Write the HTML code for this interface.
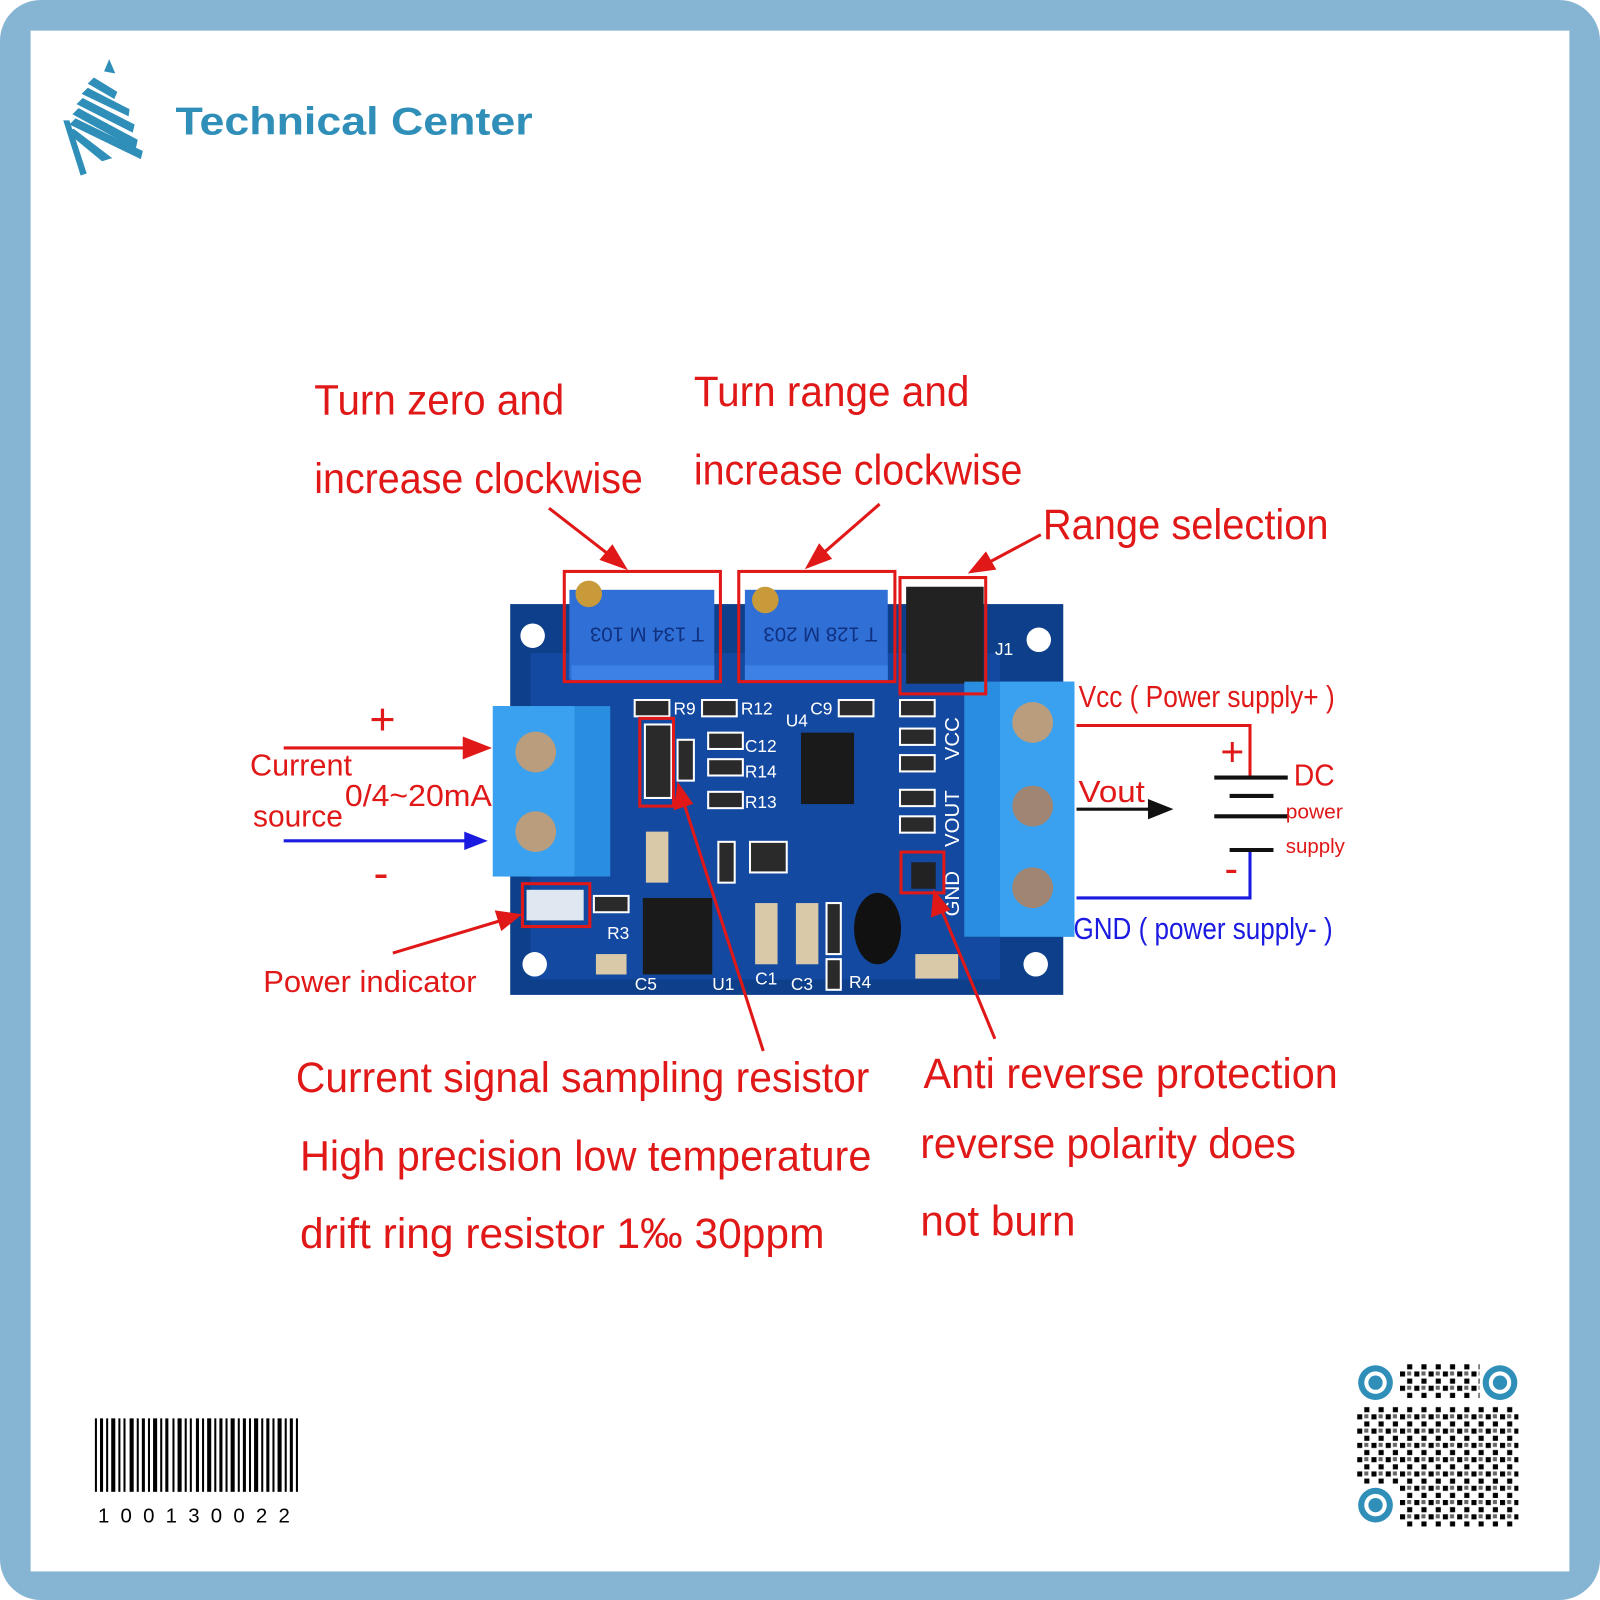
<!DOCTYPE html>
<html><head><meta charset="utf-8"><style>
html,body{margin:0;padding:0;background:#fff}
svg{display:block}
text{font-family:"Liberation Sans",sans-serif}
</style></head><body>
<svg width="1600" height="1600" viewBox="0 0 1568 1568" xmlns="http://www.w3.org/2000/svg">
<defs>
<pattern id="qr" width="14" height="14" patternUnits="userSpaceOnUse">
<rect x="0" y="0" width="5" height="5" fill="#000"/><rect x="7" y="7" width="5" height="5" fill="#000"/><rect x="7" y="0" width="4" height="4" fill="#000" opacity=".6"/>
</pattern>
</defs>
<rect x="0" y="0" width="1568" height="1568" rx="40" fill="#86b4d3"/>
<rect x="30" y="30" width="1508" height="1510" fill="#fff"/>
<!-- logo -->
<g fill="#2f8fb8">
<polygon points="107,58 113,72 102,70"/>
<polygon points="86,82 92,76 115,90 112,97"/>
<polygon points="80,92 86,86 127,107 126,114"/>
<polygon points="75,102 81,96 132,122 130,130"/>
<polygon points="71,112 77,106 135,137 133,146"/>
<polygon points="68,122 74,116 140,148 138,156"/>
<polygon points="66,130 72,126 110,155 100,158"/>
<polygon points="62,118 68,118 85,170 79,172"/>
</g>
<text x="172" y="132" font-size="38" font-weight="bold" fill="#2f8fb8" textLength="350" lengthAdjust="spacingAndGlyphs">Technical Center</text>
<!-- PCB -->
<rect x="500" y="592" width="542" height="383" fill="#0d3f8a"/>
<rect x="520" y="640" width="460" height="320" fill="#1349a0"/>
<circle cx="522" cy="623" r="12" fill="#fff"/><circle cx="1018" cy="627" r="12" fill="#fff"/>
<circle cx="524" cy="945" r="12" fill="#fff"/><circle cx="1015" cy="945" r="12" fill="#fff"/>
<!-- pots -->
<rect x="558" y="578" width="142" height="88" fill="#2f6fd6"/>
<rect x="560" y="652" width="140" height="16" fill="#3d80e6"/>
<circle cx="577" cy="582" r="13" fill="#c89a3a"/>
<text x="590" y="605" font-size="20" fill="#103080" transform="rotate(180 640 610)">T 134 M 103</text>
<rect x="730" y="578" width="140" height="88" fill="#2f6fd6"/>
<rect x="730" y="652" width="140" height="16" fill="#3d80e6"/>
<circle cx="750" cy="588" r="13" fill="#c89a3a"/>
<text x="760" y="605" font-size="20" fill="#103080" transform="rotate(180 810 610)">T 128 M 203</text>
<!-- jumper -->
<rect x="888" y="575" width="76" height="95" fill="#222"/>
<!-- small SMD parts -->
<g fill="#2a2a2a" stroke="#fff" stroke-width="2">
<rect x="622" y="686" width="34" height="16"/><rect x="688" y="686" width="34" height="16"/><rect x="822" y="686" width="34" height="16"/>
<rect x="694" y="718" width="34" height="16"/><rect x="694" y="744" width="34" height="16"/><rect x="694" y="776" width="34" height="16"/>
<rect x="882" y="686" width="34" height="16"/><rect x="882" y="714" width="34" height="16"/><rect x="882" y="740" width="34" height="16"/><rect x="882" y="774" width="34" height="16"/><rect x="882" y="800" width="34" height="16"/>
<rect x="582" y="878" width="34" height="16"/><rect x="810" y="885" width="14" height="50"/><rect x="810" y="940" width="14" height="30"/>
<rect x="632" y="710" width="26" height="72"/><rect x="664" y="725" width="16" height="40"/>
<rect x="704" y="825" width="16" height="40"/><rect x="735" y="825" width="36" height="30"/>
</g>
<!-- right terminal -->
<rect x="945" y="668" width="108" height="250" fill="#2a8ee0"/>
<rect x="980" y="668" width="73" height="250" fill="#3aa0f0"/>
<circle cx="1012" cy="708" r="20" fill="#b99d7c"/><circle cx="1012" cy="790" r="20" fill="#a08672"/><circle cx="1012" cy="870" r="20" fill="#a08672"/>
<!-- left terminal -->
<rect x="483" y="692" width="115" height="167" fill="#2a8ee0"/>
<rect x="483" y="692" width="80" height="167" fill="#3aa0f0"/>
<circle cx="525" cy="737" r="20" fill="#b99d7c"/><circle cx="525" cy="815" r="20" fill="#b99d7c"/>
<!-- ICs -->
<rect x="785" y="718" width="52" height="70" fill="#1a1a1a"/>
<rect x="630" y="880" width="68" height="75" fill="#1a1a1a"/>
<ellipse cx="860" cy="910" rx="23" ry="35" fill="#111"/>
<rect x="516" y="872" width="56" height="30" fill="#dfe8f0"/>
<rect x="893" y="845" width="24" height="26" fill="#222"/>
<g fill="#d9c9a8"><rect x="633" y="815" width="22" height="50"/><rect x="740" y="885" width="22" height="60"/><rect x="780" y="885" width="22" height="60"/><rect x="897" y="935" width="42" height="24"/><rect x="584" y="935" width="30" height="20"/></g>
<g fill="#fff" font-size="17"><text x="660" y="700">R9</text><text x="726" y="700">R12</text><text x="730" y="737">C12</text><text x="730" y="762">R14</text><text x="730" y="792">R13</text><text x="770" y="712">U4</text><text x="794" y="700">C9</text><text x="975" y="642">J1</text><text x="595" y="920">R3</text><text x="622" y="970">C5</text><text x="698" y="970">U1</text><text x="740" y="965">C1</text><text x="775" y="970">C3</text><text x="832" y="968">R4</text></g>
<g fill="#fff" font-size="20"><text transform="translate(940 745) rotate(-90)">VCC</text><text transform="translate(940 830) rotate(-90)">VOUT</text><text transform="translate(940 898) rotate(-90)">GND</text></g>
<!-- red boxes -->
<g fill="none" stroke="#e01818" stroke-width="3">
<rect x="553" y="560" width="153" height="108"/><rect x="724" y="560" width="153" height="108"/><rect x="882" y="566" width="84" height="114"/>
<rect x="627" y="704" width="33" height="86"/><rect x="512" y="866" width="66" height="42"/><rect x="883" y="835" width="42" height="40"/>
</g>
<!-- arrows -->
<g stroke="#e01818" stroke-width="3" fill="#e01818">
<line x1="538" y1="498" x2="605" y2="550"/><polygon points="612,556 590,548 600,536"/>
<line x1="862" y1="494" x2="800" y2="548"/><polygon points="792,555 803,535 813,547"/>
<line x1="1020" y1="524" x2="960" y2="556"/><polygon points="952,560 966,543 974,557"/>
<line x1="278" y1="733" x2="465" y2="733"/><polygon points="478,733 455,724 455,742"/>
<line x1="385" y1="934" x2="498" y2="900"/><polygon points="508,897 487,894 492,910"/>
<line x1="748" y1="1030" x2="668" y2="780"/><polygon points="665,770 662,792 677,787"/>
<line x1="975" y1="1018" x2="920" y2="885"/><polygon points="916,875 914,897 929,891"/>
</g>
<line x1="278" y1="824" x2="465" y2="824" stroke="#1a1ae0" stroke-width="3"/><polygon points="478,824 455,815 455,833" fill="#1a1ae0"/>
<!-- power wiring -->
<polyline points="1055,711 1225,711 1225,760" fill="none" stroke="#e01818" stroke-width="3"/>
<polyline points="1055,880 1225,880 1225,835" fill="none" stroke="#1a1ae0" stroke-width="3"/>
<g stroke="#111" stroke-width="4"><line x1="1190" y1="762" x2="1262" y2="762"/><line x1="1205" y1="780" x2="1248" y2="780"/><line x1="1190" y1="800" x2="1262" y2="800"/><line x1="1205" y1="833" x2="1248" y2="833"/></g>
<line x1="1055" y1="793" x2="1130" y2="793" stroke="#111" stroke-width="3"/><polygon points="1150,793 1125,783 1125,803" fill="#111"/>
<!-- labels -->
<g fill="#e01818" font-size="42" lengthAdjust="spacingAndGlyphs">
<text x="308" y="406" textLength="245" lengthAdjust="spacingAndGlyphs">Turn zero and</text>
<text x="308" y="483" textLength="322" lengthAdjust="spacingAndGlyphs">increase clockwise</text>
<text x="680" y="398" textLength="270" lengthAdjust="spacingAndGlyphs">Turn range and</text>
<text x="680" y="475" textLength="322" lengthAdjust="spacingAndGlyphs">increase clockwise</text>
<text x="1022" y="528" textLength="280" lengthAdjust="spacingAndGlyphs">Range selection</text>
<text x="290" y="1070" textLength="562" lengthAdjust="spacingAndGlyphs">Current signal sampling resistor</text>
<text x="294" y="1147" textLength="560" lengthAdjust="spacingAndGlyphs">High precision low temperature</text>
<text x="294" y="1223" textLength="514" lengthAdjust="spacingAndGlyphs">drift ring resistor 1‰ 30ppm</text>
<text x="905" y="1066" textLength="406" lengthAdjust="spacingAndGlyphs">Anti reverse protection</text>
<text x="902" y="1135" textLength="368" lengthAdjust="spacingAndGlyphs">reverse polarity does</text>
<text x="902" y="1211" textLength="152" lengthAdjust="spacingAndGlyphs">not burn</text>
</g>
<g fill="#e01818" font-size="30">
<text x="245" y="760" textLength="100" lengthAdjust="spacingAndGlyphs">Current</text>
<text x="248" y="810" textLength="88" lengthAdjust="spacingAndGlyphs">source</text>
<text x="338" y="790" textLength="144" lengthAdjust="spacingAndGlyphs">0/4~20mA</text>
<text x="258" y="972" textLength="209" lengthAdjust="spacingAndGlyphs">Power indicator</text>
<text x="1057" y="693" textLength="251" lengthAdjust="spacingAndGlyphs">Vcc ( Power supply+ )</text>
<text x="1057" y="786" textLength="65" lengthAdjust="spacingAndGlyphs">Vout</text>
<text x="1268" y="770" textLength="40" lengthAdjust="spacingAndGlyphs">DC</text>
<text x="1052" y="920" fill="#1a1ae0" textLength="254" lengthAdjust="spacingAndGlyphs">GND ( power supply- )</text>
<text x="362" y="720" font-size="44">+</text><text x="366" y="870" font-size="44">-</text>
<text x="1196" y="750" font-size="40">+</text><text x="1200" y="865" font-size="40">-</text>
</g>
<g fill="#e01818" font-size="20"><text x="1260" y="802" textLength="56" lengthAdjust="spacingAndGlyphs">power</text><text x="1260" y="836" textLength="58" lengthAdjust="spacingAndGlyphs">supply</text></g>
<!-- barcode -->
<g fill="#000">
<rect x="93" y="1390" width="2" height="72"/><rect x="98" y="1390" width="3" height="72"/><rect x="104" y="1390" width="2" height="72"/><rect x="109" y="1390" width="4" height="72"/><rect x="116" y="1390" width="2" height="72"/><rect x="121" y="1390" width="2" height="72"/><rect x="127" y="1390" width="4" height="72"/><rect x="134" y="1390" width="2" height="72"/><rect x="139" y="1390" width="3" height="72"/><rect x="145" y="1390" width="2" height="72"/><rect x="150" y="1390" width="4" height="72"/><rect x="157" y="1390" width="2" height="72"/><rect x="162" y="1390" width="3" height="72"/><rect x="169" y="1390" width="2" height="72"/><rect x="174" y="1390" width="4" height="72"/><rect x="181" y="1390" width="2" height="72"/><rect x="186" y="1390" width="2" height="72"/><rect x="192" y="1390" width="3" height="72"/><rect x="198" y="1390" width="2" height="72"/><rect x="203" y="1390" width="4" height="72"/><rect x="210" y="1390" width="2" height="72"/><rect x="215" y="1390" width="3" height="72"/><rect x="221" y="1390" width="2" height="72"/><rect x="226" y="1390" width="4" height="72"/><rect x="233" y="1390" width="2" height="72"/><rect x="238" y="1390" width="3" height="72"/><rect x="244" y="1390" width="2" height="72"/><rect x="249" y="1390" width="4" height="72"/><rect x="256" y="1390" width="2" height="72"/><rect x="261" y="1390" width="3" height="72"/><rect x="267" y="1390" width="2" height="72"/><rect x="272" y="1390" width="4" height="72"/><rect x="279" y="1390" width="2" height="72"/><rect x="284" y="1390" width="3" height="72"/><rect x="290" y="1390" width="2" height="72"/>
</g>
<text x="96" y="1492" font-size="20" letter-spacing="11" font-family="Liberation Mono,monospace">100130022</text>
<!-- QR -->
<rect x="1372" y="1336" width="78" height="36" fill="url(#qr)"/>
<rect x="1330" y="1378" width="158" height="78" fill="url(#qr)"/>
<rect x="1372" y="1456" width="116" height="40" fill="url(#qr)"/>
<g fill="#fff"><rect x="1328" y="1334" width="42" height="42"/><rect x="1450" y="1334" width="42" height="42"/><rect x="1328" y="1454" width="42" height="42"/></g>
<g fill="#2f8fb8"><circle cx="1348" cy="1355" r="17"/><circle cx="1470" cy="1355" r="17"/><circle cx="1348" cy="1475" r="17"/></g>
<g fill="#fff"><circle cx="1348" cy="1355" r="11"/><circle cx="1470" cy="1355" r="11"/><circle cx="1348" cy="1475" r="11"/></g>
<g fill="#2f8fb8"><circle cx="1348" cy="1355" r="7"/><circle cx="1470" cy="1355" r="7"/><circle cx="1348" cy="1475" r="7"/></g>
</svg>
</body></html>
